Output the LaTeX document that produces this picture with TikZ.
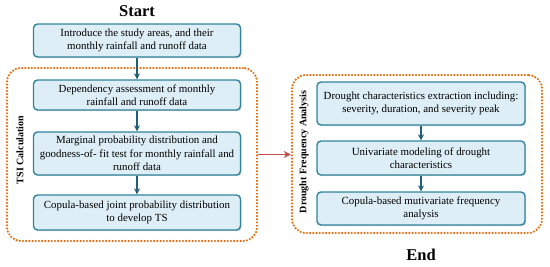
\documentclass[tikz,border=0pt]{standalone}
\usepackage{fontspec}
\setmainfont{Liberation Serif}
\usetikzlibrary{arrows.meta,shadows}
\definecolor{boxfill}{HTML}{DDEEF6}
\definecolor{boxdraw}{HTML}{31849B}
\definecolor{arrowc}{HTML}{1F5F78}
\definecolor{orangec}{HTML}{E46C0A}
\definecolor{redc}{HTML}{C0504D}
\begin{document}
\begin{tikzpicture}[x=1pt,y=-1pt,
  stepbox/.style={draw=boxdraw, fill=boxfill, line width=1.4pt, rounded corners=4pt,
    align=center, font=\rmfamily\fontsize{10.9}{13.5}\selectfont, inner sep=0pt,
    drop shadow={shadow xshift=1pt, shadow yshift=-1.2pt, opacity=0.35}},
  grp/.style={draw=orangec, line width=2.4pt, dash pattern=on 0pt off 3.2pt, line cap=round,
    rounded corners=14pt, inner sep=0pt},
  flow/.style={draw=arrowc, line width=1.5pt, -{Stealth[length=6pt,width=6pt]}},
  title/.style={font=\rmfamily\fontsize{16.5}{19}\selectfont\bfseries},
  side/.style={font=\rmfamily\fontsize{10}{12}\selectfont\bfseries, rotate=90}]
\useasboundingbox (0,0) rectangle (550,266);
\node[title] (start) at (137,11) {Start};
\node[title] (end) at (421,255) {End};
\node[grp, minimum width=250pt, minimum height=173pt] (L) at (132,154.5) {};
\node[grp, minimum width=250pt, minimum height=158pt] (R) at (417,154) {};
\node[side] (tsi) at (20,150) {TSI Calculation};
\node[side] (dfa) at (304,152) {Drought Frequency Analysis};
\node[stepbox, minimum width=207pt, minimum height=33pt] (b1) at (137,40.5)
  {Introduce the study areas, and their\\monthly rainfall and runoff data};
\node[stepbox, minimum width=207pt, minimum height=30pt] (b2) at (137,95)
  {Dependency assessment of monthly\\rainfall and runoff data};
\node[stepbox, minimum width=207pt, minimum height=43pt] (b3) at (137,153.5)
  {Marginal probability distribution and\\goodness-of- fit test for monthly rainfall and\\runoff data};
\node[stepbox, minimum width=207pt, minimum height=35pt] (b4) at (137,212.5)
  {Copula-based joint probability distribution\\to develop TS};
\node[stepbox, minimum width=208pt, minimum height=43pt] (r1) at (421,103.5)
  {Drought characteristics extraction including:\\severity, duration, and severity peak};
\node[stepbox, minimum width=208pt, minimum height=34pt] (r2) at (421,158)
  {Univariate modeling of drought\\characteristics};
\node[stepbox, minimum width=208pt, minimum height=33pt] (r3) at (421,208.5)
  {Copula-based mutivariate frequency\\analysis};
\draw[flow] (b1) -- (b2);
\draw[flow] (b2) -- (b3);
\draw[flow] (b3) -- (b4);
\draw[flow] (r1) -- (r2);
\draw[flow] (r2) -- (r3);
\draw[draw=redc, line width=1.8pt, -{Stealth[length=7pt,width=7pt]}] (L.east) -- (L.east -| R.west);
\end{tikzpicture}
\end{document}
